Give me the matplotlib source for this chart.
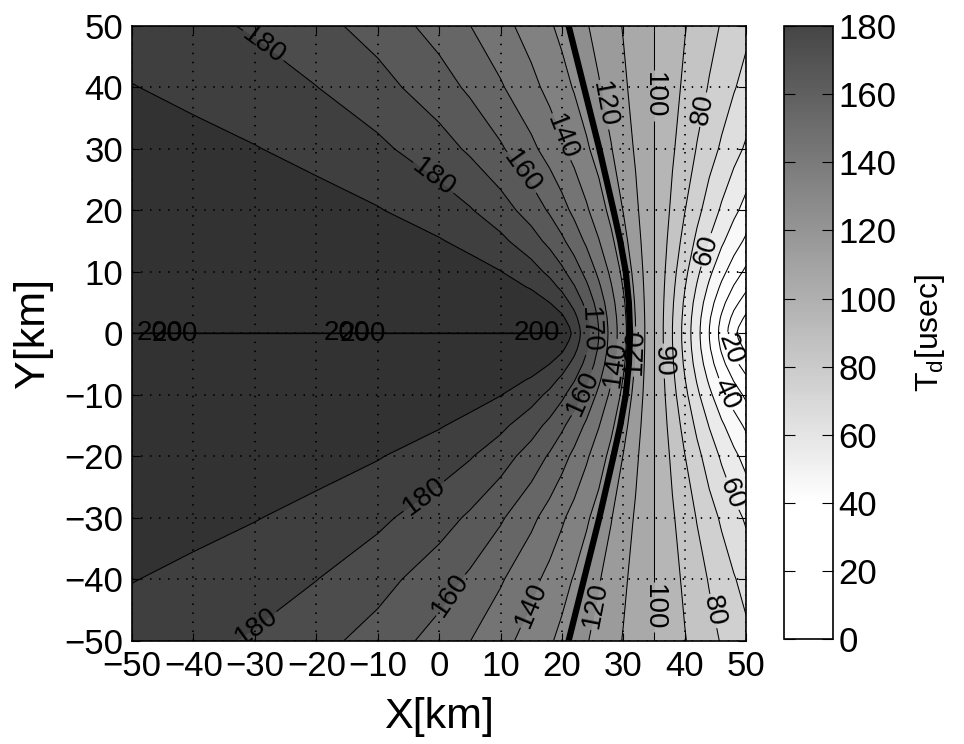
import numpy as np
import matplotlib
matplotlib.use('Agg')
import matplotlib.pyplot as plt
from matplotlib.colors import LinearSegmentedColormap, Normalize
from matplotlib.cm import ScalarMappable

plt.rcParams['font.family'] = ['Liberation Sans', 'DejaVu Sans']

# grid nodes [km]; the field is symmetric in y, so only y >= 0 is tabulated
x_km = [-50, -40, -30, -20, -10, 0, 5, 10, 15, 18, 20, 22, 24, 26, 28, 30, 32, 35, 38, 40, 42, 44, 46, 48, 50]
y_km = [0, 0.1, 1, 2.5, 5, 7.5, 10, 15, 20, 30, 40, 50]

# T_d [usec], one row per y_km entry
td_y0 = [200.01, 200.01, 200.01, 200.01, 200.01, 200.01, 200.01, 200.01, 200.01, 200.01,
         200.0, 186.7, 173.3, 160.0, 146.7, 133.3, 120.0, 100.0, 80.0, 66.7, 53.3, 40.0, 26.7, 13.3, 0.0]
td_y01 = [199.99, 199.99, 199.99, 199.99, 199.99, 199.99, 199.99, 199.99, 199.99, 199.99,
          199.7, 186.7, 173.3, 160.0, 146.7, 133.3, 120.0, 100.0, 80.0, 66.7, 53.3, 40.0, 26.7, 13.3, 0.3]
td_y1 = [199.99, 199.99, 199.99, 199.98, 199.97, 199.95, 199.93, 199.87, 199.72, 199.27,
         196.7, 185.9, 173.0, 159.8, 146.5, 133.3, 120.0, 100.0, 80.0, 66.7, 53.5, 40.2, 27.0, 14.1, 3.3]
td_y2 = [199.95, 199.94, 199.92, 199.89, 199.83, 199.69, 199.54, 199.23, 198.3, 196.3,
         192.0, 183.0, 171.3, 158.8, 145.9, 132.8, 119.7, 100.0, 80.3, 67.2, 54.1, 41.2, 28.7, 17.0, 8.0]
td_y5 = [199.8, 199.8, 199.7, 199.6, 199.3, 198.8, 198.2, 197.1, 194.3, 190.0,
         184.7, 176.9, 166.9, 155.7, 143.8, 131.5, 118.9, 100.0, 81.1, 68.5, 56.2, 44.3, 33.1, 23.1, 15.3]
td_y7 = [199.6, 199.5, 199.3, 199.0, 198.5, 197.3, 196.2, 194.0, 189.3, 183.7,
         178.1, 170.8, 161.9, 151.8, 140.9, 129.5, 117.8, 100.0, 82.2, 70.5, 59.1, 48.2, 38.1, 29.2, 21.9]
td_y10 = [199.3, 199.1, 198.8, 198.3, 197.4, 195.4, 193.6, 190.3, 184.1, 177.8,
          172.1, 165.1, 157.0, 147.8, 137.9, 127.4, 116.6, 100.0, 83.4, 72.6, 62.1, 52.2, 43.0, 34.9, 27.9]
td_y15 = [198.4, 198.0, 197.3, 196.2, 194.4, 190.7, 187.4, 182.3, 174.2, 167.4,
          161.8, 155.4, 148.3, 140.5, 132.1, 123.2, 114.1, 100.0, 85.9, 76.8, 67.9, 59.5, 51.7, 44.6, 38.2]
td_y20 = [197.3, 196.5, 195.4, 193.6, 190.6, 185.2, 180.8, 174.5, 165.7, 158.8,
          153.5, 147.7, 141.4, 134.5, 127.3, 119.7, 111.9, 100.0, 88.1, 80.3, 72.7, 65.5, 58.6, 52.3, 46.5]
td_y30 = [194.2, 192.6, 190.4, 187.2, 182.2, 174.2, 168.5, 161.3, 152.3, 146.0,
          141.4, 136.6, 131.4, 126.1, 120.5, 114.8, 108.9, 100.0, 91.1, 85.2, 79.5, 73.9, 68.6, 63.4, 58.6]
td_y40 = [190.3, 187.9, 184.7, 180.2, 173.7, 164.4, 158.3, 151.1, 142.8, 137.3,
          133.3, 129.3, 125.0, 120.7, 116.2, 111.6, 107.0, 100.0, 93.0, 88.4, 83.8, 79.3, 75.0, 70.7, 66.7]
td_y50 = [185.9, 182.8, 178.8, 173.3, 166.0, 156.2, 150.2, 143.5, 135.9, 131.1,
          127.7, 124.2, 120.7, 117.0, 113.3, 109.5, 105.7, 100.0, 94.3, 90.5, 86.7, 83.0, 79.3, 75.8, 72.3]

# thick boundary curve
bound_x = [21.1, 23.6, 26.1, 28.4, 29.5, 30.4, 30.9, 31.1, 30.9, 30.4, 29.5, 28.4, 26.1, 23.6, 21.1]
bound_y = [50, 40, 30, 20, 15, 10, 5, 0, -5, -10, -15, -20, -30, -40, -50]

# where the contour labels sit
label_x = [-28.8, -1.2, 12.8, 19.5, 26.3, 34.9, 43.5, 43.8,
           -29.8, -1.9, 2.2, 14.8, 26.7, 34.9, 44.1, 46.6, 46.5, 47.6,
           24.5, 23.0, 28.8, 32.3, 36.8]
label_y = [46.6, 24.9, 25.7, 31.8, 37.1, 38.7, 36.3, 13.5,
           -47.7, -27.3, -42.8, -44.1, -44.5, -44.5, -45.3, -26.5, -10.0, -2.5,
           0.5, -9.5, -5.0, -3.0, -4.5]
ridge_label_x = [-45.5, -43.0, -15.0, -12.5, 16.0]
ridge_label_y = [0.05, -0.05, 0.05, -0.05, 0.05]

# mirror the tabulated half into the full grid
td_half = np.array([td_y0, td_y01, td_y1, td_y2, td_y5, td_y7, td_y10,
                    td_y15, td_y20, td_y30, td_y40, td_y50])
yy = np.array(y_km)
X = np.array(x_km)
Y = np.concatenate([-yy[:0:-1], yy])
Z = np.vstack([td_half[:0:-1], td_half])

cmap = LinearSegmentedColormap.from_list(
    'td_gray', [(0.0, (1, 1, 1)), (0.2, (1, 1, 1)), (1.0, (0.17, 0.17, 0.17))])
cmap.set_over((0.15, 0.15, 0.15))
norm = Normalize(0, 200)

fig = plt.figure(figsize=(9.64, 7.44), dpi=100)
ax = fig.add_axes([0.137, 0.139, 0.637, 0.826])
cax = fig.add_axes([0.813, 0.141, 0.051, 0.824])

ax.contourf(X, Y, Z, levels=np.arange(0, 210, 10), cmap=cmap, norm=norm, extend='max')
cs = ax.contour(X, Y, Z, levels=np.arange(10, 210, 10), colors='k', linewidths=0.75)

ax.clabel(cs, manual=list(zip(label_x, label_y)), inline=True, fmt='%d',
          fontsize=20, inline_spacing=2)
ax.clabel(cs, manual=list(zip(ridge_label_x, ridge_label_y)), inline=False,
          fmt='%d', fontsize=20)

ax.plot(bound_x, bound_y, color='k', lw=4.5, solid_capstyle='butt')

ax.set_xlim(-50, 50)
ax.set_ylim(-50, 50)
ax.set_xticks(range(-50, 51, 10))
ax.set_yticks(range(-50, 51, 10))
ax.set_axisbelow(False)
ax.grid(True, color='k', linestyle=(0, (0.8, 4.2)), linewidth=1.3)
ax.tick_params(direction='in', length=6, top=True, right=True, labelsize=25, pad=6.5)
ax.set_xlabel('X[km]', fontsize=31, labelpad=10)
ax.set_ylabel('Y[km]', fontsize=31, labelpad=8)
for sp in ax.spines.values():
    sp.set_linewidth(1.2)

cb = fig.colorbar(ScalarMappable(norm=norm, cmap=cmap), cax=cax, ticks=range(0, 181, 20))
cb.ax.set_ylim(0, 180)
cb.ax.tick_params(direction='in', length=8, left=True, right=True, labelsize=25, pad=4)
cb.outline.set_linewidth(1.2)
cb.set_label(r'T$_{\mathregular{d}}$[usec]', fontsize=23, labelpad=12)

fig.savefig('out.png', dpi=100)
